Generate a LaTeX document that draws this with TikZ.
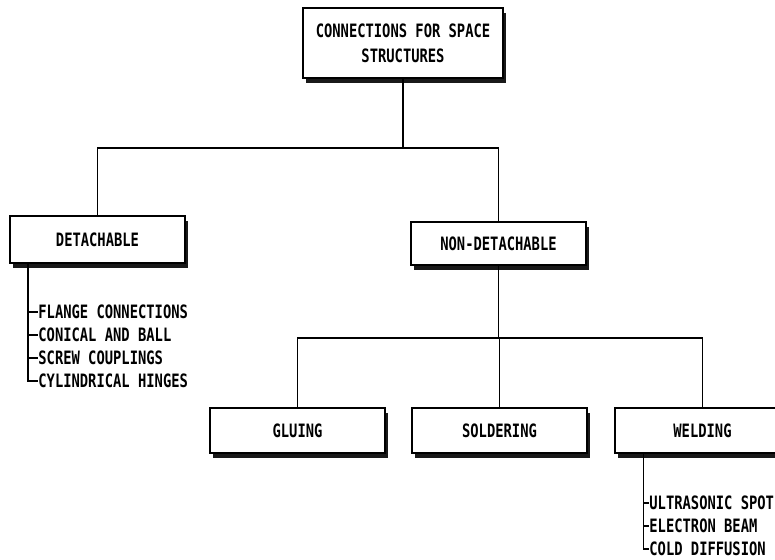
\documentclass[tikz,border=0pt]{standalone}
\usepackage{fontspec}
\newfontfamily\plotfont[FakeStretch=0.75]{DejaVu Sans Mono Bold}
\usetikzlibrary{positioning,shadows}

\begin{document}
\begin{tikzpicture}[
    x=0.5pt, y=-0.5pt,
    box/.style={rectangle, draw=black, line width=1pt, fill=white,
                minimum width=87.5pt, minimum height=22.5pt, align=center,
                font=\plotfont\fontsize{9.2}{12.5}\selectfont,
                drop shadow={shadow xshift=1.5pt, shadow yshift=-2.5pt,
                             fill=black, opacity=0.9}},
    item/.style={anchor=west, inner sep=0pt,
                 font=\plotfont\fontsize{9.2}{12.5}\selectfont},
    link/.style={line width=0.8pt}
]
    \useasboundingbox (0,0) rectangle (775,560);
    \clip (0,0) rectangle (775,560);

    \node[box, minimum width=100pt, minimum height=35pt] (top) at (403,43)
        {CONNECTIONS FOR SPACE\\STRUCTURES};
    \node[box, minimum height=23.5pt] (det) at (97.5,239.5) {DETACHABLE};
    \node[box, minimum height=21.5pt] (nondet) at (498.5,243.5) {NON-DETACHABLE};
    \node[box] (gluing) at (297.5,430.5) {GLUING};
    \node[box, right=12.5pt of gluing] (solder) {SOLDERING};
    \node[box, right=13pt of solder] (weld) {WELDING};

    \coordinate (bus1) at (403,148);
    \coordinate (bus2) at (500,338);
    \draw[link] (top.south) -- (bus1);
    \draw[link] (det.north) |- (bus1) -| (nondet.north);
    \draw[link] (nondet.south) -- (nondet.south |- bus2);
    \draw[link] (gluing.north) |- (bus2) -| (weld.north);
    \draw[link] (solder.north) -- (solder.north |- bus2);

    \coordinate (dspine) at ([xshift=-34.75pt]det.south);
    \foreach \txt [count=\i] in {FLANGE CONNECTIONS, CONICAL AND BALL,
                                 SCREW COUPLINGS, CYLINDRICAL HINGES}
    {
        \node[item] (d\i) at (38,{312+23*(\i-1)}) {\txt};
        \draw[link] (dspine) |- (d\i.west);
    }

    \coordinate (wspine) at ([xshift=-29.5pt]weld.south);
    \foreach \txt [count=\i] in {ULTRASONIC SPOT, ELECTRON BEAM, COLD DIFFUSION}
    {
        \node[item] (w\i) at (649,{503+23*(\i-1)}) {\txt};
        \draw[link] (wspine) |- (w\i.west);
    }
\end{tikzpicture}
\end{document}
